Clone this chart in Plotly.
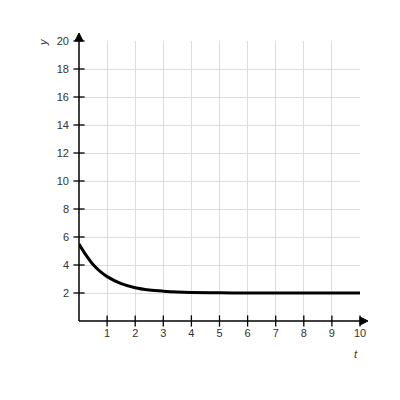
import plotly.graph_objects as go

# values
t_values = [0, 0.25, 0.5, 0.75, 1, 1.5, 2, 2.5, 3, 3.5, 4, 5, 6, 7, 8, 9, 10]
y_values = [5.5, 4.7, 4.03, 3.54, 3.17, 2.67, 2.38, 2.22, 2.13, 2.07, 2.04, 2.01, 2.0, 2.0, 2.0, 2.0, 2.0]

x_ticks = [1, 2, 3, 4, 5, 6, 7, 8, 9, 10]
y_ticks = [2, 4, 6, 8, 10, 12, 14, 16, 18, 20]

AXIS_COLOR = 'black'
LABEL_FONT = dict(family='Liberation Sans, Arial', size=11, color='#333')

fig = go.Figure()

fig.add_trace(go.Scatter(
    x=t_values,
    y=y_values,
    mode='lines',
    line=dict(color='black', width=3, shape='spline'),
    hoverinfo='skip',
))

# tick marks crossing the axes
fig.add_trace(go.Scatter(
    x=x_ticks,
    y=[0] * len(x_ticks),
    mode='markers',
    marker=dict(symbol='line-ns-open', size=8, color=AXIS_COLOR,
                line=dict(color=AXIS_COLOR, width=1.3)),
    cliponaxis=False,
    hoverinfo='skip',
))
fig.add_trace(go.Scatter(
    x=[0] * len(y_ticks),
    y=y_ticks,
    mode='markers',
    marker=dict(symbol='line-ew-open', size=8, color=AXIS_COLOR,
                line=dict(color=AXIS_COLOR, width=1.3)),
    cliponaxis=False,
    hoverinfo='skip',
))

# axis lines with arrow heads, in paper coordinates so they can run past the grid
fig.add_shape(type='line', xref='paper', yref='paper', x0=0, y0=0, x1=1.02, y1=0,
              line=dict(color=AXIS_COLOR, width=1.5))
fig.add_shape(type='line', xref='paper', yref='paper', x0=0, y0=0, x1=0, y1=1.02,
              line=dict(color=AXIS_COLOR, width=1.5))
fig.add_shape(type='path', xref='paper', yref='paper',
              path='M -0.0143 1.0 L 0.0143 1.0 L 0 1.0286 Z',
              fillcolor=AXIS_COLOR, line=dict(color=AXIS_COLOR, width=1))
fig.add_shape(type='path', xref='paper', yref='paper',
              path='M 1.0 -0.0143 L 1.0 0.0143 L 1.0285 0 Z',
              fillcolor=AXIS_COLOR, line=dict(color=AXIS_COLOR, width=1))

fig.add_annotation(xref='paper', yref='paper', x=-0.126, y=0.995, text='<i>y</i>',
                   xanchor='center', yanchor='middle',
                   showarrow=False, textangle=-90, font=LABEL_FONT)
fig.add_annotation(xref='paper', yref='paper', x=0.986, y=-0.119, text='<i>t</i>',
                   xanchor='center', yanchor='middle',
                   showarrow=False, font=LABEL_FONT)

fig.update_xaxes(
    range=[0, 10],
    tickvals=x_ticks,
    ticktext=[str(v) for v in x_ticks],
    ticks='',
    tickfont=LABEL_FONT,
    ticklabelstandoff=4,
    showgrid=True,
    gridcolor='#dddddd',
    gridwidth=1,
    zeroline=False,
    showline=False,
)
fig.update_yaxes(
    range=[0, 20],
    tickvals=y_ticks,
    ticktext=[str(v) for v in y_ticks],
    ticks='',
    tickfont=LABEL_FONT,
    ticklabelstandoff=9,
    showgrid=True,
    gridcolor='#dddddd',
    gridwidth=1,
    zeroline=False,
    showline=False,
)

fig.update_layout(
    width=400,
    height=400,
    margin=dict(l=71, r=48, t=33, b=87),
    plot_bgcolor='white',
    paper_bgcolor='white',
    showlegend=False,
)

fig.write_html('out.html')
